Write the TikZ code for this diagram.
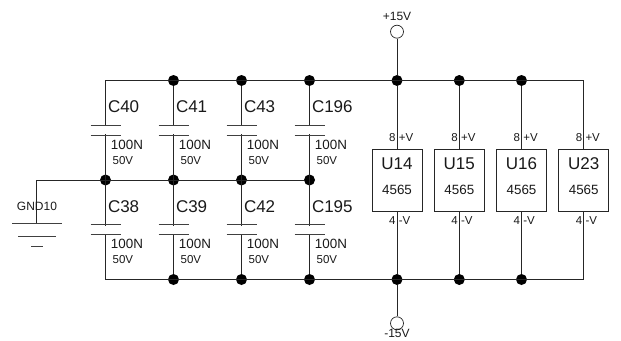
\documentclass[tikz,border=0pt]{standalone}
\usepackage{fontspec}
\setmainfont{Liberation Sans}
\begin{document}
\begin{tikzpicture}[x=1pt,y=-1pt,
  wire/.style={draw=black!85,line width=0.85pt},
  plate/.style={draw=black!75,line width=0.9pt},
  junction/.style={circle,fill=black,inner sep=0pt,minimum size=11pt},
  term/.style={circle,draw=black!85,fill=white,inner sep=0pt,minimum size=13pt,line width=0.7pt},
  chip/.style={rectangle,draw=black!85,fill=white,line width=0.8pt,minimum width=50pt,minimum height=62pt,inner sep=0pt},
  big/.style={inner sep=0pt,font=\fontsize{17}{19}\selectfont,text=black!90},
  mid/.style={inner sep=0pt,font=\fontsize{13.4}{15}\selectfont,text=black!90},
  small/.style={inner sep=0pt,font=\fontsize{11.5}{13}\selectfont,text=black!90},
  tiny/.style={inner sep=0pt,font=\fontsize{12}{14}\selectfont,text=black!90}]
\useasboundingbox (0,0) rectangle (621,340);
\coordinate (tl) at (105.5,80.5);
\coordinate (tr) at (583.5,80.5);
\coordinate (bl) at (105.5,279.5);
\coordinate (br) at (583.5,279.5);
\coordinate (ml) at (36.5,180);
% chips
\foreach \n/\x/\lab in {d/397/U14,e/459.3/U15,f/521.5/U16,g/583.7/U23}{
  \node[chip] (u\n) at (\x,180) {};
  \node[big,anchor=base] (un\n) at (\x,169.3) {\lab};
  \node[mid,anchor=base] (ut\n) at (\x,194.3) {4565};
  \node[small,anchor=base east] (pa\n) at (\x-1.3,141) {8};
  \node[small,anchor=base west] (pb\n) at (\x+1.6,141) {+V};
  \node[small,anchor=base east] (pc\n) at (\x-1.3,224.3) {4};
  \node[small,anchor=base west] (pd\n) at (\x+1.6,224.3) {-V};
}
% rail nodes
\foreach \n/\x in {a/173.5,b/241.5,c/309.5,d/397,e/459.3,f/521.5}{
  \node[junction] (t\n) at (\x,80.5) {};
  \node[junction] (b\n) at (\x,279.5) {};
}
\node[junction] (m0) at (105.5,180) {};
\node[junction] (ma) at (173.5,180) {};
\node[junction] (mb) at (241.5,180) {};
\node[junction] (mc) at (309.5,180) {};
% rails
\draw[wire] (ug.north) |- (tl) -- (bl) -| (ug.south);
\draw[wire] (ml) -- (mc);
\draw[wire] (ta) -- (ba);
\draw[wire] (tb) -- (bb);
\draw[wire] (tc) -- (bc);
\foreach \n in {d,e,f}{
  \draw[wire] (t\n) -- (u\n.north);
  \draw[wire] (u\n.south) -- (b\n);
}
% supply terminals
\node[term] (vp) at (397,31.7) {};
\node[term] (vn) at (397,323.3) {};
\draw[wire] (vp) -- (td);
\draw[wire] (bd) -- (vn);
\node[tiny,anchor=base] (lp) at (397,20.7) {+15V};
\node[tiny,anchor=base] (ln) at (397,337.7) {-15V};
% capacitors
\foreach \n/\x/\ya/\yb/\lab in {1/105.5/125.3/135.3/C40,2/173.5/125.3/135.3/C41,3/241.5/125.3/135.3/C43,4/309.5/125.3/135.3/C196,5/105.5/224.7/234.7/C38,6/173.5/224.7/234.7/C39,7/241.5/224.7/234.7/C42,8/309.5/224.7/234.7/C195}{
  \fill[white] (\x-4,\ya+1) rectangle (\x+4,\yb-1);
  \draw[plate] (\x-15,\ya) -- (\x+15,\ya);
  \draw[plate] (\x-15,\yb) -- (\x+15,\yb);
  \node[big,anchor=base west] (cn\n) at (\x+2.3,\ya-12.4) {\lab};
  \node[mid,anchor=base west] (cv\n) at (\x+5.2,\yb+14.2) {100N};
  \node[small,anchor=base west] (cw\n) at (\x+7,\yb+28.8) {50V};
}
% ground
\coordinate (g1) at (36.5,223.3);
\draw[wire] (ml) -- (g1);
\coordinate (g1a) at (12,223.3); \coordinate (g1b) at (62,223.3);
\coordinate (g2a) at (18,236); \coordinate (g2b) at (56,236);
\coordinate (g3a) at (31,246); \coordinate (g3b) at (43,246);
\draw[plate] (g1a) -- (g1b);
\draw[plate] (g2a) -- (g2b);
\draw[plate] (g3a) -- (g3b);
\node[tiny,anchor=base] (gl) at (37,210.7) {GND10};
\end{tikzpicture}
\end{document}
